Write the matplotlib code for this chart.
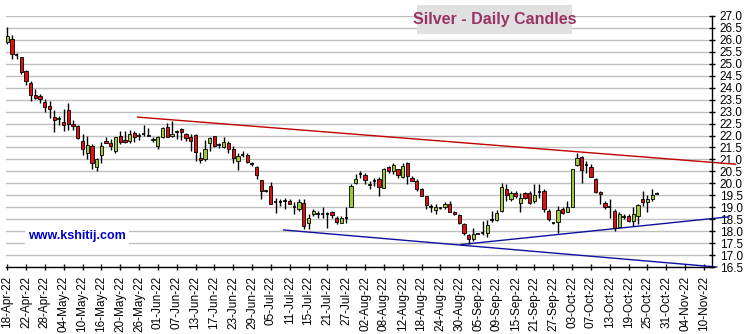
import numpy as np
import pandas as pd
import matplotlib
matplotlib.use('Agg')
import matplotlib.pyplot as plt
from matplotlib.patches import Rectangle

plt.rcParams['font.family'] = ['Liberation Sans', 'DejaVu Sans']

# Daily silver candles, business days from 18-Apr-22
start_date = '2022-04-18'
axis_days = 150

opens = [25.90, 26.04, 25.39, 25.29, 24.69, 24.21, 23.71, 23.67, 23.39, 23.25,
         22.79, 22.71, 22.58, 23.06, 22.50, 22.40, 21.75, 21.25, 21.57, 20.67,
         21.17, 21.76, 21.68, 21.36, 21.97, 21.82, 21.78, 22.11, 22.00, 22.06,
         22.03, 21.83, 21.57, 21.92, 22.36, 21.99, 22.17, 22.29, 22.08, 21.94,
         22.01, 21.08, 21.01, 21.68, 21.96, 21.60, 21.51, 21.67, 21.42, 20.93,
         21.18, 21.17, 20.82, 20.69, 20.13, 19.68, 19.88, 19.22, 19.22, 19.26,
         19.26, 19.03, 18.92, 19.19, 18.36, 18.71, 18.71, 18.71, 18.71, 18.81,
         18.54, 18.36, 18.54, 19.03, 20.03, 20.38, 20.33, 19.99, 20.10, 20.17,
         19.82, 20.68, 20.51, 20.58, 20.26, 20.83, 20.24, 20.10, 19.75, 19.47,
         18.99, 18.89, 18.96, 19.03, 19.13, 18.81, 18.67, 18.29, 17.83, 17.67,
         17.90, 17.94, 17.94, 18.46, 18.47, 18.85, 19.78, 19.33, 19.58, 19.19,
         19.58, 19.61, 19.26, 19.64, 19.68, 18.85, 18.35, 18.39, 18.92, 18.81,
         19.01, 20.76, 21.11, 20.76, 20.69, 20.17, 19.64, 19.17, 18.99, 18.85,
         18.19, 18.60, 18.64, 18.43, 18.64, 19.36, 19.24, 19.36, 19.58]
highs = [26.54, 26.22, 25.46, 25.30, 24.76, 24.26, 23.96, 23.72, 23.51, 23.44,
         23.07, 22.82, 23.12, 23.35, 22.64, 22.42, 22.08, 21.96, 21.64, 21.08,
         21.71, 21.92, 21.85, 21.94, 22.19, 22.19, 22.22, 22.17, 22.12, 22.44,
         22.33, 21.92, 21.99, 22.36, 22.54, 22.61, 22.22, 22.31, 22.12, 22.06,
         22.06, 21.29, 21.81, 21.94, 21.99, 21.70, 21.94, 21.77, 21.56, 21.28,
         21.35, 21.28, 20.90, 20.72, 20.13, 19.71, 20.06, 19.40, 19.36, 19.40,
         19.33, 19.20, 19.33, 19.33, 18.71, 18.92, 18.85, 19.03, 18.81, 18.85,
         18.64, 18.64, 19.03, 19.96, 20.38, 20.51, 20.42, 20.10, 20.24, 20.28,
         20.65, 20.72, 20.83, 20.61, 20.83, 20.89, 20.31, 20.19, 19.82, 19.47,
         19.13, 19.13, 19.00, 19.22, 19.26, 18.85, 18.71, 18.36, 17.88, 18.15,
         17.94, 18.43, 18.47, 18.85, 18.89, 20.00, 19.96, 19.68, 19.68, 19.61,
         19.65, 19.68, 19.96, 19.96, 19.75, 18.92, 18.40, 19.06, 18.99, 19.26,
         20.61, 21.28, 21.14, 20.93, 20.79, 20.24, 19.68, 19.26, 19.33, 18.92,
         18.78, 18.71, 18.71, 18.99, 19.13, 19.68, 19.50, 19.75, 19.62]
lows = [25.83, 25.21, 25.21, 24.56, 24.11, 23.44, 23.51, 23.37, 23.00, 22.75,
        22.15, 22.43, 22.19, 22.22, 22.22, 21.85, 21.19, 21.01, 20.62, 20.53,
        20.87, 21.68, 21.39, 21.28, 21.64, 21.67, 21.67, 21.75, 21.81, 21.97,
        21.96, 21.71, 21.43, 21.88, 21.92, 21.92, 21.85, 21.82, 21.78, 21.36,
        20.94, 20.85, 20.94, 21.36, 21.53, 21.48, 21.49, 21.28, 20.86, 20.56,
        21.11, 20.86, 20.72, 20.17, 19.33, 19.64, 19.15, 18.75, 19.06, 18.92,
        19.12, 18.71, 18.85, 18.08, 18.08, 18.64, 18.57, 18.53, 18.15, 18.57,
        18.29, 18.33, 18.36, 18.99, 19.99, 20.24, 19.99, 19.78, 19.89, 19.47,
        19.79, 20.44, 20.37, 20.24, 20.24, 19.96, 20.10, 19.68, 19.47, 18.92,
        18.78, 18.71, 18.92, 18.92, 18.78, 18.67, 18.29, 17.83, 17.46, 17.60,
        17.86, 17.83, 17.74, 18.39, 18.43, 18.78, 19.26, 19.26, 19.40, 18.78,
        19.33, 19.12, 19.19, 19.40, 18.81, 18.43, 18.30, 17.92, 18.71, 18.78,
        18.99, 20.72, 20.03, 20.44, 20.28, 19.61, 19.13, 18.92, 18.57, 18.01,
        18.19, 18.50, 18.39, 18.22, 18.29, 19.06, 18.81, 19.26, 19.54]
closes = [26.18, 25.42, 25.38, 24.67, 24.28, 23.71, 23.57, 23.51, 23.21, 23.12,
          22.63, 22.70, 22.44, 22.50, 22.40, 21.88, 21.43, 21.60, 20.85, 21.01,
          21.56, 21.69, 21.57, 21.92, 21.75, 21.74, 22.08, 21.92, 22.00, 22.05,
          21.96, 21.85, 21.92, 22.31, 21.94, 22.08, 22.15, 22.13, 21.88, 21.78,
          21.29, 20.99, 21.43, 21.89, 21.57, 21.60, 21.72, 21.44, 21.07, 21.14,
          21.18, 20.90, 20.82, 20.35, 19.68, 19.68, 19.15, 19.22, 19.22, 19.26,
          19.15, 19.03, 19.22, 18.22, 18.57, 18.83, 18.71, 18.71, 18.71, 18.67,
          18.39, 18.54, 18.54, 19.89, 20.19, 20.38, 20.14, 19.93, 20.10, 19.86,
          20.61, 20.51, 20.75, 20.33, 20.72, 20.31, 20.10, 19.78, 19.47, 19.08,
          18.99, 19.03, 18.96, 19.13, 18.78, 18.71, 18.33, 17.92, 17.67, 17.88,
          17.90, 17.94, 18.25, 18.46, 18.75, 19.86, 19.51, 19.61, 19.47, 19.40,
          19.40, 19.19, 19.50, 19.64, 18.94, 18.50, 18.35, 18.88, 18.75, 19.01,
          20.58, 21.07, 20.56, 20.76, 20.28, 19.64, 19.54, 18.99, 18.99, 18.15,
          18.71, 18.60, 18.43, 18.71, 19.08, 19.24, 19.33, 19.50, 19.56]

# Trend lines (day index, price)
red_line_x = [27.7, 154.7]
red_line_y = [22.77, 20.80]
blue_down_x = [58.7, 150.7]
blue_down_y = [18.05, 16.50]
blue_up_x = [96.4, 153.3]
blue_up_y = [17.44, 18.60]

y_ticks = np.arange(16.5, 27.01, 0.5)

dates = pd.bdate_range(start_date, periods=axis_days)
tick_idx = np.arange(0, 149, 4)
tick_labels = [dates[i].strftime('%d-%b-%y') for i in tick_idx]

o = np.array(opens)
h = np.array(highs)
l = np.array(lows)
c = np.array(closes)
idx = np.arange(len(o))

fig = plt.figure(figsize=(7.53, 3.34), dpi=100)
ax = fig.add_axes([6/753, 67/334, 706/753, 251/334])

# wicks
ax.vlines(idx, l, h, color='black', linewidth=1, zorder=3)

# bodies
w = 0.7
up = c > o + 0.02
down = c < o - 0.02
doji = ~(up | down)
ax.bar(idx[up], (c - o)[up], bottom=o[up], width=w, color='#9fc83c',
       edgecolor='black', linewidth=0.6, zorder=4)
ax.bar(idx[down], (o - c)[down], bottom=c[down], width=w, color='#dd1111',
       edgecolor='black', linewidth=0.6, zorder=4)
ax.hlines(c[doji], idx[doji] - w/2, idx[doji] + w/2, color='black',
          linewidth=1.2, zorder=4)

# trend lines
ax.plot(red_line_x, red_line_y, color='#c00000', linewidth=1, zorder=2, clip_on=False)
ax.plot(blue_down_x, blue_down_y, color='#1010a0', linewidth=1, zorder=2, clip_on=False)
ax.plot(blue_up_x, blue_up_y, color='#1010a0', linewidth=1, zorder=2, clip_on=False)

ax.set_xlim(-0.25, 149.7)
ax.set_ylim(16.5, 27.0)
ax.set_yticks(y_ticks)
ax.set_yticklabels(['%.1f' % v for v in y_ticks])
ax.yaxis.tick_right()
ax.set_xticks(tick_idx)
ax.set_xticklabels(tick_labels, rotation=90)
ax.tick_params(axis='both', direction='inout', length=5, width=1, labelsize=8.5, colors='black')
ax.tick_params(axis='y', pad=3)
ax.tick_params(axis='x', pad=4)
ax.grid(axis='y', color='#c0c0c0', linewidth=1, zorder=0)
ax.set_axisbelow(True)
for s in ['left', 'top']:
    ax.spines[s].set_visible(False)
for s in ['right', 'bottom']:
    ax.spines[s].set_linewidth(1)

# title box
fig.add_artist(Rectangle((417/753, 1 - 34/334), 155/753, 29/334,
                         transform=fig.transFigure, facecolor='#e0e0e0',
                         edgecolor='none', zorder=10))
fig.text(494.5/753, 1 - 19.5/334, 'Silver - Daily Candles', ha='center', va='center',
         fontsize=11.5, fontweight='bold', color='#993366', zorder=11)

ax.text(0.1006, 0.1235, 'www.kshitij.com', transform=ax.transAxes, ha='center',
        va='center', fontsize=9, fontweight='bold', color='#0000cc', zorder=6,
        bbox=dict(facecolor='white', edgecolor='none', pad=2))

fig.savefig('out.png', dpi=100)
